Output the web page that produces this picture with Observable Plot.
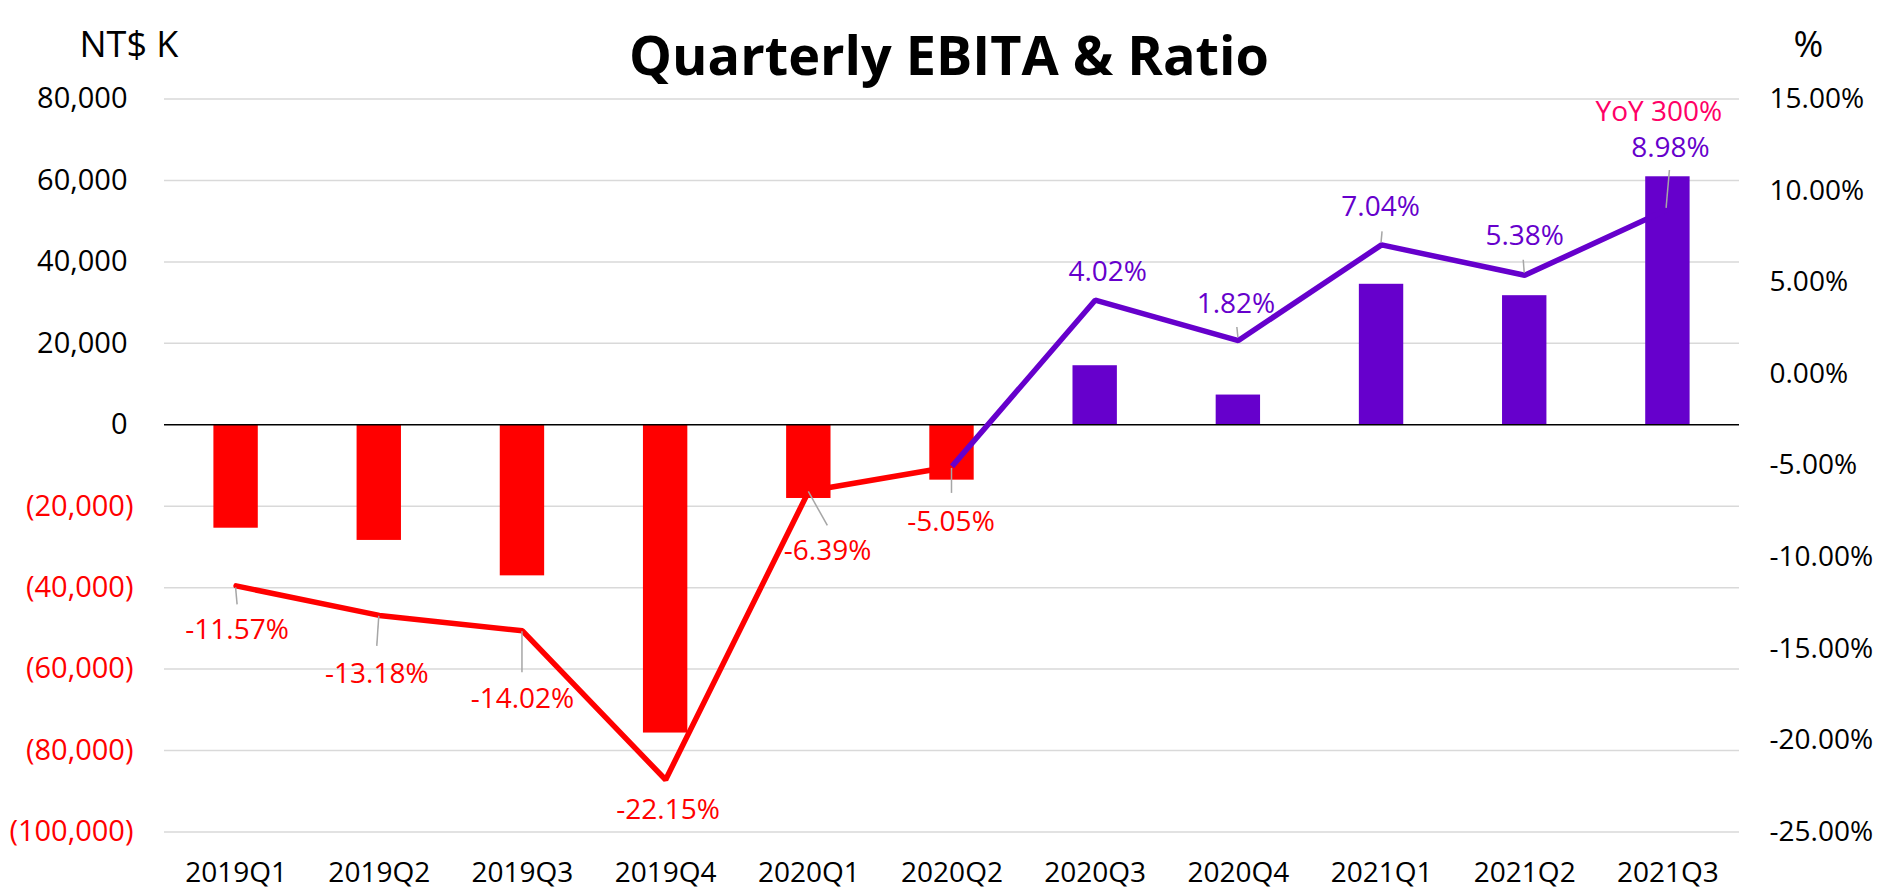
<!DOCTYPE html>
<html>
<head>
<meta charset="utf-8">
<script src="https://cdn.jsdelivr.net/npm/d3@7"></script>
<script src="https://cdn.jsdelivr.net/npm/@observablehq/plot@0.6"></script>
<style>
  html, body { margin: 0; padding: 0; background: #fff; }
  #chart { width: 1884px; height: 891px; }
</style>
</head>
<body>
<div id="chart"></div>
<script>
// ---- data ----
const quarters = ["2019Q1","2019Q2","2019Q3","2019Q4","2020Q1","2020Q2","2020Q3","2020Q4","2021Q1","2021Q2","2021Q3"];
const ebita = [-25400, -28400, -37100, -75700, -18100, -13600, 14500, 7300, 34500, 31700, 60900];   // NT$ K
const ratio = [-11.57, -13.18, -14.02, -22.15, -6.39, -5.05, 4.02, 1.82, 7.04, 5.38, 8.98];          // %
const leftTicks = [80000, 60000, 40000, 20000, 0, -20000, -40000, -60000, -80000, -100000];
const rightTicks = [15, 10, 5, 0, -5, -10, -15, -20, -25];
const yoyNote = "YoY 300%";
const titleText = "Quarterly EBITA & Ratio";
const leftUnit = "NT$ K";
const rightUnit = "%";

// ---- styling / layout ----
const RED = "#FF0000", PURPLE = "#6600CC", PINK = "#FF0066", GRID = "#D9D9D9", LEADER = "#A6A6A6";
const FONT = "'Open Sans', 'Noto Sans', sans-serif";
const labelDx = [1, -2.5, 0, 2.4, 18.7, -1, 12.5, -2.4, -1, 0, 2.5];
const labelDy = [44.5, 58.5, 68.6, 30.6, 60.4, 56, -28, -36, -37.7, -39, -61];
const leaders = [
  [0, 2, 1.5, 19], [0, 1, -2, 31], [0, 1, 0, 42], null, [0, 1, 19, 35], [0, 2, 0, 27],
  null, [0, -3, -1, -13], [0, -2, 1, -13], [0, -2, -1, -15], [-1.3, -1, 2, -38.8]
];

// secondary (ratio) axis mapped onto the primary domain: 15% <-> 80,000 ; -25% <-> -100,000
const yMin = -100000, yMax = 80000, rMin = -25, rMax = 15;
const toY = r => yMin + (r - rMin) / (rMax - rMin) * (yMax - yMin);
const fromY = v => rMin + (v - yMin) / (yMax - yMin) * (rMax - rMin);

const rows = quarters.map((q, i) => ({q, v: ebita[i], r: ratio[i], ry: toY(ratio[i]), i}));
const colorOf = x => x < 0 ? RED : PURPLE;
const fmt = d3.format(",");

const labelMarks = rows.map((d, i) => Plot.text([d], {
  x: "q", y: "ry", text: d => d.r.toFixed(2) + "%",
  dx: labelDx[i], dy: labelDy[i], fill: colorOf(d.r), fontSize: 28, textAnchor: "middle"
}));
const last = rows[rows.length - 1];

const plot = Plot.plot({
  width: 1884,
  height: 891,
  marginLeft: 164,
  marginRight: 145,
  marginTop: 98.5,
  marginBottom: 59.5,
  style: {fontFamily: FONT, fontSize: "28px", color: "#000", background: "#fff"},
  x: {type: "band", domain: quarters, paddingInner: 0.69, paddingOuter: 0.345, round: false, label: null},
  y: {domain: [yMin, yMax], label: null},
  marks: [
    Plot.ruleY(leftTicks.filter(v => v !== 0), {stroke: GRID, strokeWidth: 1.5}),
    Plot.barY(rows, {x: "q", y: "v", fill: d => colorOf(d.v)}),
    Plot.ruleY([0], {stroke: "#000", strokeWidth: 1.6}),
    Plot.line(rows.slice(0, 6), {x: "q", y: "ry", stroke: RED, strokeWidth: 5.5, strokeLinejoin: "miter", strokeLinecap: "round", curve: "linear"}),
    Plot.line(rows.slice(5), {x: "q", y: "ry", stroke: PURPLE, strokeWidth: 5.5, strokeLinejoin: "miter", strokeLinecap: "butt", curve: "linear"}),
    Plot.axisX({tickSize: 0, tickPadding: 30, fontSize: 28, label: null}),
    Plot.axisY({ticks: leftTicks.filter(v => v >= 0), tickFormat: fmt, tickSize: 0, tickPadding: 37, fontSize: 29, label: null, anchor: "left"}),
    Plot.axisY({ticks: leftTicks.filter(v => v < 0), tickFormat: v => "(" + fmt(-v) + ")", tickSize: 0, tickPadding: 31, fontSize: 29, color: RED, label: null, anchor: "left"}),
    Plot.axisY({ticks: rightTicks.map(toY), tickFormat: v => fromY(v).toFixed(2) + "%", tickSize: 0, tickPadding: 30, fontSize: 28, label: null, anchor: "right"}),
    ...labelMarks,
    Plot.text([last], {x: "q", y: "ry", text: () => yoyNote, dx: -9, dy: -97, fill: PINK, fontSize: 28}),
    Plot.text([titleText], {frameAnchor: "top", text: d => d, dx: -3, dy: -62.5, fontSize: 54, fontWeight: "bold", fill: "#000"}),
    Plot.text([leftUnit], {frameAnchor: "top-left", text: d => d, textAnchor: "start", dx: -85, dy: -68, fontSize: 36, fill: "#000"}),
    Plot.text([rightUnit], {frameAnchor: "top-right", text: d => d, textAnchor: "start", dx: 54, dy: -68, fontSize: 36, fill: "#000"})
  ]
});

// leader lines, positioned through the plot's own scales
const xs = plot.scale("x"), ys = plot.scale("y");
const half = (xs.bandwidth || 0) / 2;
const g = d3.select(plot).append("g").attr("stroke", LEADER).attr("stroke-width", 1.5);
rows.forEach((d, i) => {
  const L = leaders[i];
  if (!L) return;
  const px = xs.apply(d.q) + half, py = ys.apply(d.ry);
  g.append("line").attr("x1", px + L[0]).attr("y1", py + L[1]).attr("x2", px + L[2]).attr("y2", py + L[3]);
});

document.getElementById("chart").append(plot);
</script>
</body>
</html>
